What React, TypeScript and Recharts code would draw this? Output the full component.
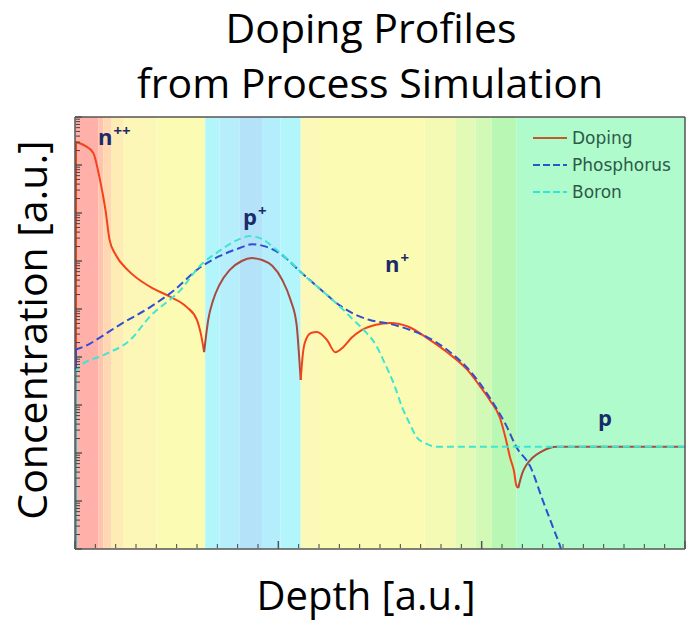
import { LineChart, Line, XAxis, YAxis, ReferenceArea, ReferenceDot, Legend } from 'recharts'

// depth [a.u.] vs log10 concentration [a.u.]
const dopingNearSurface: [number, number][] = [
  [0, 8.48], [0.05, 8.4], [0.09, 8.25], [0.12, 7.75], [0.15, 7.06], [0.17, 6.44],
  [0.2, 6.13], [0.26, 5.81], [0.37, 5.46], [0.47, 5.25], [0.55, 5.04], [0.6, 4.77],
  [0.62, 4.46], [0.635, 4.1],
]
const dopingPPlus: [number, number][] = [
  [0.635, 4.1], [0.645, 4.46], [0.655, 4.77], [0.68, 5.19], [0.71, 5.5], [0.76, 5.81],
  [0.82, 6.0], [0.87, 6.06], [0.92, 6.02], [0.97, 5.9], [1.02, 5.6], [1.06, 5.19],
  [1.09, 4.67], [1.1, 4.15], [1.11, 3.52],
]
const dopingNPlus: [number, number][] = [
  [1.11, 3.52], [1.12, 4.04], [1.13, 4.29], [1.16, 4.5], [1.19, 4.52], [1.24, 4.35],
  [1.28, 4.1], [1.32, 4.21], [1.36, 4.4], [1.41, 4.56], [1.48, 4.67], [1.55, 4.71],
  [1.64, 4.63], [1.73, 4.4], [1.83, 4.1], [1.93, 3.73], [1.99, 3.4], [2.04, 3.1],
  [2.09, 2.73], [2.12, 2.27], [2.14, 1.9], [2.16, 1.6], [2.17, 1.33], [2.18, 1.27],
]
const dopingSubstrate: [number, number][] = [
  [2.18, 1.27], [2.19, 1.44], [2.2, 1.58], [2.22, 1.75], [2.25, 1.9], [2.29, 2.02],
  [2.33, 2.1], [2.37, 2.13], [3, 2.13],
]
const phosphorus: [number, number][] = [
  [0, 4.15], [0.07, 4.27], [0.12, 4.4], [0.22, 4.67], [0.37, 5.04], [0.49, 5.4],
  [0.61, 5.85], [0.71, 6.1], [0.81, 6.27], [0.87, 6.35], [0.93, 6.31], [1.01, 6.15],
  [1.11, 5.77], [1.21, 5.4], [1.3, 5.08], [1.38, 4.88], [1.45, 4.77], [1.55, 4.69],
  [1.65, 4.56], [1.73, 4.42], [1.83, 4.15], [1.93, 3.77], [2.04, 3.15], [2.12, 2.58],
  [2.17, 2.13], [2.24, 1.71], [2.3, 1.02], [2.35, 0.46], [2.39, 0], [2.42, -0.5],
]
const boron: [number, number][] = [
  [0, 3.69], [0.025, 3.81], [0.14, 4.04], [0.27, 4.35], [0.37, 4.85], [0.52, 5.4],
  [0.61, 5.88], [0.71, 6.21], [0.8, 6.44], [0.86, 6.52], [0.92, 6.46], [0.98, 6.27],
  [1.06, 5.98], [1.11, 5.77], [1.21, 5.4], [1.3, 5.06], [1.38, 4.73], [1.43, 4.52],
  [1.48, 4.25], [1.52, 3.9], [1.57, 3.42], [1.61, 2.94], [1.65, 2.58], [1.68, 2.33],
  [1.73, 2.19], [1.78, 2.13], [3, 2.13],
]
// the profiles drop straight down along the surface (depth 0)
const dopingSurface: [number, number][] = [[0, 8.48], [0, -1]]
const phosphorusSurface: [number, number][] = [[0, 4.15], [0, -1]]
const boronSurface: [number, number][] = [[0, 3.69], [0, -1]]

// coloured region bands along depth
const bandStarts = [0, 0.115, 0.14, 0.18, 0.24, 0.4, 0.64, 0.71, 0.81, 0.92, 1.01, 1.11, 1.2, 1.72, 1.87, 1.97, 2.05, 2.17]
const bandEnds = [0.115, 0.14, 0.18, 0.24, 0.4, 0.64, 0.71, 0.81, 0.92, 1.01, 1.11, 1.2, 1.72, 1.87, 1.97, 2.05, 2.17, 3]
const bandColors = [
  '#ffb0a8', '#ffc4ab', '#ffd7b0', '#fdecb4', '#fcf7b6', '#fcfbb4', '#b2f6fc', '#b6eefc', '#b3e2f9',
  '#b4eefc', '#b2f6fc', '#fcf9b8', '#fcfbb4', '#f4fab4', '#e3fab6', '#d2fab6', '#b8f8b4', '#b0fbcc',
]

// region labels
const regionNames = ['n', 'p', 'n', 'p']
const regionSups = ['++', '+', '+', '']
const regionDepth = [0.113, 0.826, 1.525, 2.572]
const regionLevel = [8.42, 6.75, 5.77, 2.56]

const xMajorTicks = [0, 1, 2, 3]
const xMinorTicks = [
  0.1, 0.2, 0.3, 0.4, 0.5, 0.6, 0.7, 0.8, 0.9, 1.1, 1.2, 1.3, 1.4, 1.5, 1.6, 1.7, 1.8, 1.9,
  2.1, 2.2, 2.3, 2.4, 2.5, 2.6, 2.7, 2.8, 2.9,
]
const yMajorTicks = [0, 1, 2, 3, 4, 5, 6, 7, 8, 9]
const yMinorTicks = yMajorTicks.slice(0, 9).flatMap(d => [2, 3, 4, 5, 6, 7, 8, 9].map(m => d + Math.log10(m)))

const N_COLOR = '#f4431a'
const P_COLOR = '#a94a3e'
const PHOS_COLOR = '#2f4fd0'
const BORON_COLOR = '#3ee6d2'
const AXIS = '#555'

const toRows = (pts: [number, number][]) => pts.map(([depth, conc]) => ({ depth, conc }))
const noLabel = () => ''

const legendItems = [
  { label: 'Doping', color: '#bf5a2e', dash: undefined },
  { label: 'Phosphorus', color: '#2b55d0', dash: '7 3' },
  { label: 'Boron', color: '#2ae6dc', dash: '7 3' },
]

function LegendBox() {
  return (
    <div style={{ fontFamily: 'DejaVu Sans', fontSize: 17, color: '#2c5a48' }}>
      {legendItems.map(item => (
        <div key={item.label} style={{ display: 'flex', alignItems: 'center', height: 27 }}>
          <svg width={36} height={10}>
            <line x1={1} y1={5} x2={35} y2={5} stroke={item.color} strokeWidth={2} strokeDasharray={item.dash} />
          </svg>
          <span style={{ marginLeft: 4 }}>{item.label}</span>
        </div>
      ))}
    </div>
  )
}

function RegionLabel(props: any) {
  const { cx, cy, main, sup } = props
  return (
    <text x={cx} y={cy} fill="#1b2a68" fontFamily="Open Sans" fontWeight={700} fontSize={22}>
      {main}
      {sup && <tspan fontSize={15} dy={-9} dx={1}>{sup}</tspan>}
    </text>
  )
}

export default function App() {
  const lineProps = {
    xAxisId: 'major',
    yAxisId: 'major',
    dataKey: 'conc',
    type: 'monotone' as const,
    dot: false,
    activeDot: false,
    isAnimationActive: false,
    strokeWidth: 2,
  }
  const spineProps = { ...lineProps, type: 'linear' as const, strokeWidth: 4 }

  return (
    <div style={{ position: 'absolute', left: 0, top: 0, width: 687, height: 622, background: '#fff' }}>
      <svg width={687} height={622} style={{ position: 'absolute', left: 0, top: 0 }}>
        <g fontFamily="Open Sans" fontSize={41} fill="#000" textAnchor="middle">
          <text x={371} y={43}>Doping Profiles</text>
          <text x={370} y={98}>from Process Simulation</text>
          <text x={366} y={610} fontSize={40}>Depth [a.u.]</text>
          <text transform="translate(47,330) rotate(-90)">Concentration [a.u.]</text>
        </g>
      </svg>
      <div style={{ position: 'absolute', left: 0, top: 0 }}>
        <LineChart width={687} height={622} margin={{ top: 117, right: 2, bottom: 73, left: 75 }}>
          {bandColors.map((c, i) => (
            <ReferenceArea
              key={i}
              xAxisId="major"
              yAxisId="major"
              x1={bandStarts[i]}
              x2={bandEnds[i]}
              fill={c}
              fillOpacity={1}
              stroke="none"
            />
          ))}

          <Line {...spineProps} data={toRows(dopingSurface)} stroke={N_COLOR} name="Doping surface" />
          <Line {...spineProps} data={toRows(phosphorusSurface)} stroke={PHOS_COLOR} name="Phosphorus surface" />
          <Line {...spineProps} data={toRows(boronSurface)} stroke="#47b8c0" name="Boron surface" />

          <Line {...lineProps} data={toRows(dopingNearSurface)} stroke={N_COLOR} name="Doping" />
          <Line {...lineProps} data={toRows(dopingPPlus)} stroke={P_COLOR} name="Doping p+" />
          <Line {...lineProps} data={toRows(dopingNPlus)} stroke={N_COLOR} name="Doping n+" />
          <Line {...lineProps} data={toRows(dopingSubstrate)} stroke={P_COLOR} name="Doping p" />
          <Line {...lineProps} data={toRows(phosphorus)} stroke={PHOS_COLOR} strokeDasharray="8 4" name="Phosphorus" />
          <Line {...lineProps} data={toRows(boron)} stroke={BORON_COLOR} strokeDasharray="7 4" name="Boron" />

          <XAxis xAxisId="major" type="number" dataKey="depth" domain={[0, 3]} ticks={xMajorTicks} interval={0}
            mirror tickFormatter={noLabel} tickSize={8} height={1} stroke={AXIS} strokeWidth={1.5} allowDataOverflow />
          <XAxis xAxisId="minor" type="number" dataKey="depth" domain={[0, 3]} ticks={xMinorTicks} interval={0}
            mirror tickFormatter={noLabel} tickSize={4} height={1} axisLine={false} stroke="#444" allowDataOverflow />
          <XAxis xAxisId="top" orientation="top" type="number" dataKey="depth" domain={[0, 3]}
            mirror tick={false} tickLine={false} height={1} stroke={AXIS} strokeWidth={1.5} allowDataOverflow />
          <YAxis yAxisId="major" type="number" domain={[0, 9]} ticks={yMajorTicks} interval={0}
            mirror tickFormatter={noLabel} tickSize={7} width={1} stroke={AXIS} strokeWidth={1.5} allowDataOverflow />
          <YAxis yAxisId="minor" type="number" domain={[0, 9]} ticks={yMinorTicks} interval={0}
            mirror tickFormatter={noLabel} tickSize={4} width={1} axisLine={false} stroke="#444" allowDataOverflow />
          <YAxis yAxisId="right" orientation="right" type="number" domain={[0, 9]}
            mirror tick={false} tickLine={false} width={1} stroke={AXIS} strokeWidth={1.5} allowDataOverflow />

          {regionNames.map((n, i) => (
            <ReferenceDot
              key={i}
              xAxisId="major"
              yAxisId="major"
              x={regionDepth[i]}
              y={regionLevel[i]}
              r={0}
              shape={(p: any) => <RegionLabel {...p} main={n} sup={regionSups[i]} />}
            />
          ))}

          <Legend
            layout="vertical"
            align="center"
            verticalAlign="middle"
            content={() => <LegendBox />}
            wrapperStyle={{ left: 532, top: 124, width: 'auto', height: 'auto' }}
          />
        </LineChart>
      </div>
    </div>
  )
}
